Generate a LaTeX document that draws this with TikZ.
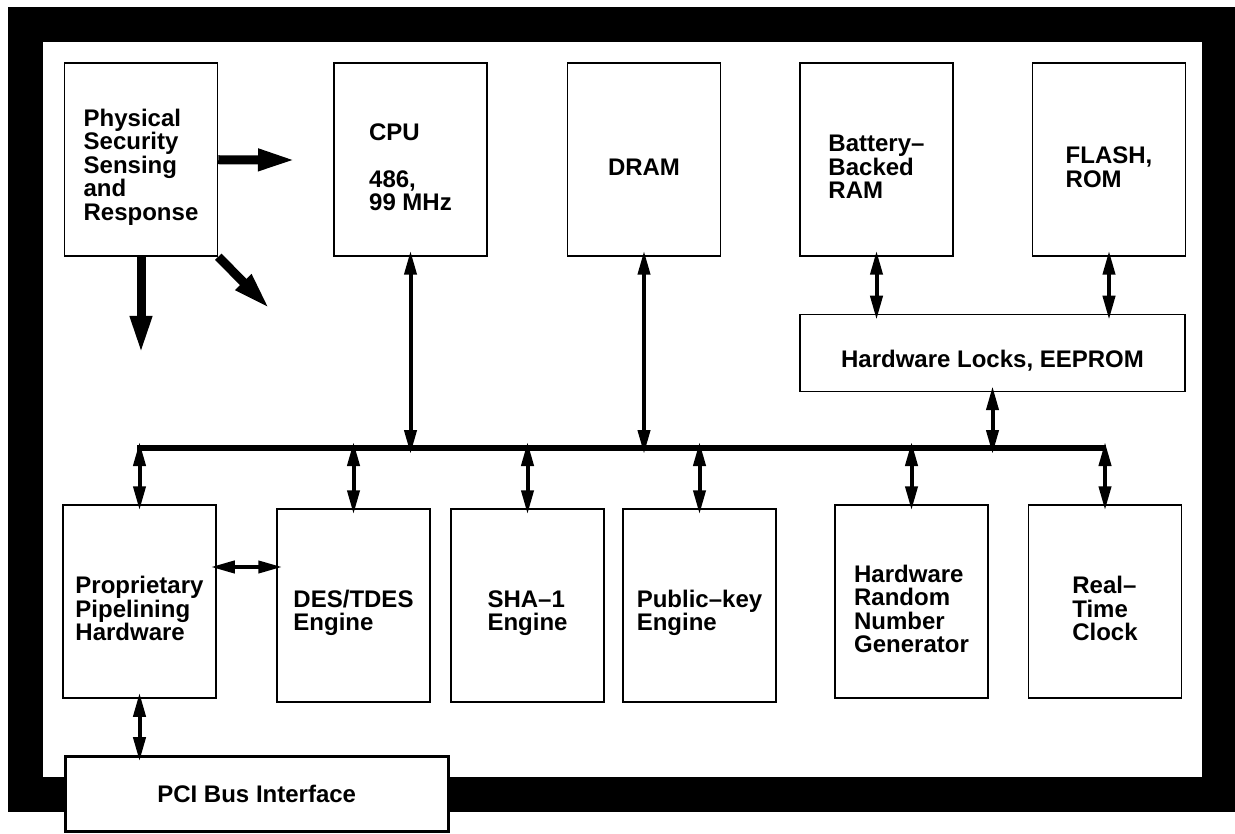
\documentclass[tikz,border=0pt]{standalone}
\usepackage{fontspec}
\setmainfont{Liberation Sans}
\usetikzlibrary{arrows.meta,positioning}
\newcommand\padtop{\rule{0pt}{32pt}}

\begin{document}
\begin{tikzpicture}[
  x=1pt,y=-1pt,
  font=\fontsize{24}{23.5}\selectfont\bfseries,
  node distance=78pt,
  blk/.style={draw,line width=1.5pt,fill=white,align=left,minimum width=153pt,minimum height=193pt,inner sep=0pt},
  wide/.style={blk,minimum width=385pt,minimum height=77pt},
  pcibox/.style={draw,line width=3pt,fill=white,minimum width=383pt,minimum height=75pt,inner sep=0pt},
  bus/.style={line width=6pt},
  ar/.style={{Triangle[length=24pt,width=12pt]}-{Triangle[length=24pt,width=12pt]},line width=4pt,shorten <=-6pt,shorten >=-6pt},
  big/.style={-{Triangle[length=38pt,width=20pt]},line width=9pt}
]
\useasboundingbox (0,0) rectangle (1235,834);

% enclosure
\fill (8,7) rectangle (1235,812);
\fill[white] (43,42) rectangle (1202,777);

% top row
\node[blk] (phys) at (141,159.5) {\padtop Physical\\Security\\Sensing\\and\\Response};
\node[blk,right=115pt of phys] (cpu) {\padtop CPU\\[23.5pt]486,\\99 MHz};
\node[blk,right=79pt of cpu] (dram) {\padtop DRAM};
\node[blk,right=of dram] (batt) {\padtop Battery–\\Backed\\RAM};
\node[blk,right=of batt] (flash) {\padtop FLASH,\\ROM};
\node[wide,below=57pt of batt.south west,anchor=north west] (locks) {\padtop Hardware Locks, EEPROM};

% bottom row
\node[blk] (prop) at (139.5,601.5) {\padtop Proprietary\\Pipelining\\Hardware};
\node[blk] (des) at (353.5,605.5) {\padtop DES/TDES\\Engine};
\node[blk] (sha) at (527.5,605.5) {\padtop SHA–1\\Engine};
\node[blk] (pub) at (699.5,605.5) {\padtop Public–key\\Engine};
\node[blk] (rng) at (911.5,601.5) {\padtop Hardware\\Random\\Number\\Generator};
\node[blk] (rtc) at (1105,601.5) {\padtop Real–\\Time\\Clock};
\node[pcibox] (pci) at (256.7,794.2) {PCI Bus Interface};

% internal bus
\coordinate (busL) at (137,448);
\coordinate (busR) at (1106,448);
\draw[bus] (busL) -- (busR);

\draw[ar] (cpu) -- (cpu |- busR);
\draw[ar] (dram) -- (dram |- busR);
\draw[ar] (batt) -- (batt |- locks.north);
\draw[ar] (flash) -- (flash |- locks.north);
\draw[ar] (locks) -- (locks |- busR);
\draw[ar] (prop |- busL) -- (prop);
\draw[ar] (des |- busL) -- (des);
\draw[ar] (sha |- busL) -- (sha);
\draw[ar] (pub |- busL) -- (pub);
\draw[ar] (rng |- busL) -- (rng);
\draw[ar] (rtc |- busL) -- (rtc);

\coordinate (pd) at ([yshift=34.5pt]prop.east);
\draw[ar] (pd) -- (pd -| des.west);
\draw[ar] (prop) -- (prop |- pci.north);

% sensing outputs
\coordinate (sR) at (296,160);
\coordinate (sD) at (141,354);
\coordinate (sX) at (270,309);
\draw[big] (phys) -- (sR);
\draw[big] (phys) -- (sD);
\draw[big] (phys.south east) -- (sX);
\end{tikzpicture}
\end{document}
